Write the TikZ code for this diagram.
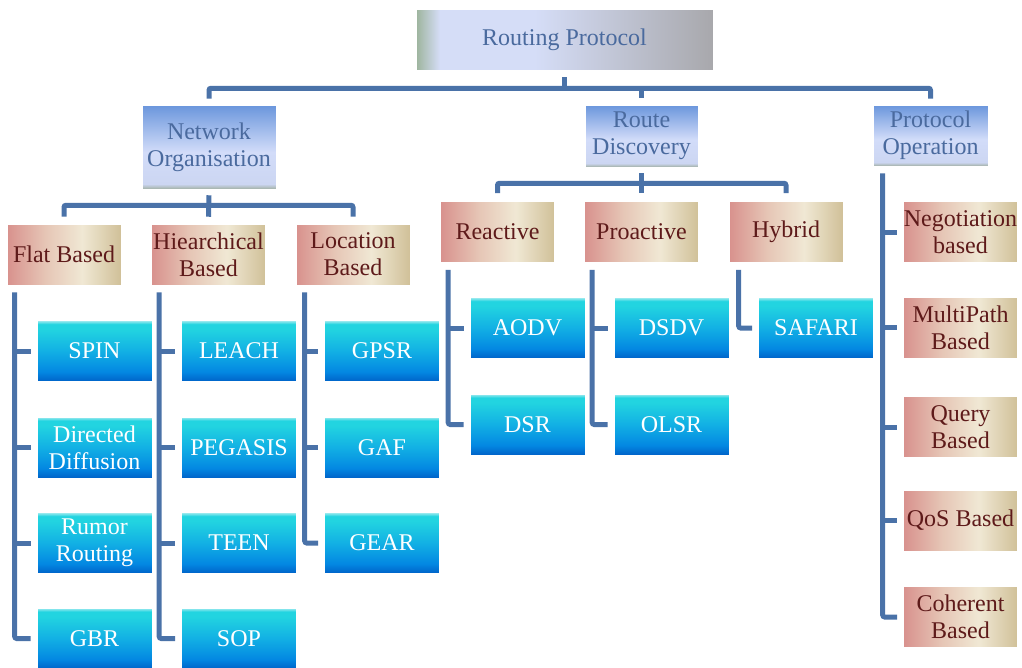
\documentclass[tikz,border=0pt]{standalone}
\usepackage{fontspec}
\setmainfont{Liberation Serif}
\usetikzlibrary{calc}
\definecolor{connc}{HTML}{4A72A8}
\definecolor{titletext}{HTML}{4A6A9E}
\definecolor{tantext}{HTML}{5E1A1A}
% blue boxes
\definecolor{bA}{HTML}{0062C8}
\definecolor{bB}{HTML}{0388E2}
\definecolor{bC}{HTML}{12B0E4}
\definecolor{bD}{HTML}{22D4E0}
\definecolor{bE}{HTML}{A8ECF0}
\pgfdeclareverticalshading{blueshade}{100bp}{color(0bp)=(bA); color(25bp)=(bA); color(33bp)=(bB); color(50bp)=(bC); color(68bp)=(bD); color(72bp)=(bD); color(75bp)=(bE); color(100bp)=(bE)}
% title boxes
\definecolor{tA}{HTML}{A2B0A4}
\definecolor{tB}{HTML}{CCD6F2}
\definecolor{tC}{HTML}{D2DCF9}
\definecolor{tE}{HTML}{6A96DC}
\pgfdeclareverticalshading{titleshade}{100bp}{color(0bp)=(tA); color(25bp)=(tA); color(28bp)=(tB); color(47bp)=(tC); color(75bp)=(tE); color(100bp)=(tE)}
% tan boxes
\definecolor{nA}{HTML}{D8918D}
\definecolor{nB}{HTML}{E6C6B6}
\definecolor{nC}{HTML}{F0E8D4}
\definecolor{nD}{HTML}{D0C098}
\pgfdeclarehorizontalshading{tanshade}{100bp}{color(0bp)=(nA); color(25bp)=(nA); color(42bp)=(nB); color(58bp)=(nC); color(75bp)=(nD); color(100bp)=(nD)}
% root box
\definecolor{rA}{HTML}{9DB49C}
\definecolor{rB}{HTML}{D5DDF7}
\definecolor{rD}{HTML}{A8A8AC}
\pgfdeclarehorizontalshading{rootshade}{100bp}{color(0bp)=(rA); color(25bp)=(rA); color(29bp)=(rB); color(45bp)=(rB); color(75bp)=(rD); color(100bp)=(rD)}
\tikzset{
  conn/.style={draw=connc, line width=3.75pt, rounded corners=1.5pt},
  boxbase/.style={rectangle, inner sep=0pt, align=center, font=\fontsize{18}{20.5}\selectfont, draw=white, line width=0.4pt},
  bluebox/.style={boxbase, shading=blueshade, text=white, minimum width=86.25pt, minimum height=45.75pt},
  tanbox/.style={boxbase, shading=tanshade, text=tantext, minimum width=85.5pt, minimum height=45.75pt},
  titlebox/.style={boxbase, shading=titleshade, text=titletext},
  rootbox/.style={boxbase, shading=rootshade, text=titletext},
}
\begin{document}
\begin{tikzpicture}[x=0.75pt, y=-0.75pt]
\useasboundingbox (0,0) rectangle (1022,668);
\fill[white] (0,0) rectangle (1022,668);
% top levels
\node[rootbox, minimum width=222.75pt, minimum height=45.75pt] (root) at (564.5,39.5) {Routing Protocol};
\node[titlebox, minimum width=100.5pt, minimum height=63pt] (netorg) at (209,147) {Network\\Organisation};
\node[titlebox, minimum width=84.75pt, minimum height=46.5pt] (routedisc) at (641.5,136) {Route\\Discovery};
\node[titlebox, minimum width=86.25pt, minimum height=45.75pt] (protop) at (930.5,135.5) {Protocol\\Operation};
% tan boxes
\node[tanbox] (flat) at (64,254.5) {Flat Based};
\node[tanbox] (hier) at (208.5,254.5) {Hiearchical\\Based};
\node[tanbox] (loc) at (353,254.5) {Location\\Based};
\node[tanbox] (reactive) at (497.5,232) {Reactive};
\node[tanbox] (proactive) at (641.5,232) {Proactive};
\node[tanbox] (hybrid) at (786,232) {Hybrid};
\node[tanbox] (neg) at (960.5,232) {Negotiation\\based};
\node[tanbox] (multi) at (960.5,327.5) {MultiPath\\Based};
\node[tanbox] (query) at (960.5,427) {Query\\Based};
\node[tanbox] (qos) at (960.5,520.5) {QoS Based};
\node[tanbox] (coherent) at (960.5,617) {Coherent\\Based};
% blue boxes
\node[bluebox] (spin) at (94.5,351) {SPIN};
\node[bluebox] (dd) at (94.5,447.5) {Directed\\Diffusion};
\node[bluebox] (rumor) at (94.5,543) {Rumor\\Routing};
\node[bluebox] (gbr) at (94.5,638.5) {GBR};
\node[bluebox] (leach) at (239,351) {LEACH};
\node[bluebox] (pegasis) at (239,447.5) {PEGASIS};
\node[bluebox] (teen) at (239,543) {TEEN};
\node[bluebox] (sop) at (239,638.5) {SOP};
\node[bluebox] (gpsr) at (382,351) {GPSR};
\node[bluebox] (gaf) at (382,447.5) {GAF};
\node[bluebox] (gear) at (382,543) {GEAR};
\node[bluebox] (aodv) at (527.5,328) {AODV};
\node[bluebox] (dsr) at (527.5,424.5) {DSR};
\node[bluebox] (dsdv) at (671.5,328) {DSDV};
\node[bluebox] (olsr) at (671.5,424.5) {OLSR};
\node[bluebox] (safari) at (816,328) {SAFARI};
% root connectors
\coordinate (rbar) at ($(root.south)+(0,18)$);
\draw[conn] ($(root.south)+(0,7)$) -- (rbar);
\draw[conn] ($(netorg.north)+(0,-6)$) |- (rbar) -| ($(protop.north)+(0,-6)$);
\draw[conn] (routedisc.north |- rbar) -- ($(routedisc.north)+(0,-7)$);
% network organisation connectors
\coordinate (nbar) at ($(netorg.south)+(0,16)$);
\draw[conn] ($(netorg.south)+(0,6)$) -- ($(hier.north)+(0,-7)$);
\draw[conn] ($(flat.north)+(0,-7)$) |- (nbar) -| ($(loc.north)+(0,-7)$);
% route discovery connectors
\coordinate (dbar) at ($(routedisc.south)+(0,16)$);
\draw[conn] ($(routedisc.south)+(0,6)$) -- ($(proactive.north)+(0,-8)$);
\draw[conn] ($(reactive.north)+(0,-8)$) |- (dbar) -| ($(hybrid.north)+(0,-8)$);
% lists
\coordinate (flatL) at ($(flat.south west)+(8,7)$);
\draw[conn] (flatL) |- ($(gbr.west)+(-6,0)$);
\foreach \n in {spin,dd,rumor} \draw[conn] (flatL |- \n.west) -- ($(\n.west)+(-6,0)$);
\coordinate (hierL) at ($(hier.south west)+(8,7)$);
\draw[conn] (hierL) |- ($(sop.west)+(-6,0)$);
\foreach \n in {leach,pegasis,teen} \draw[conn] (hierL |- \n.west) -- ($(\n.west)+(-6,0)$);
\coordinate (locL) at ($(loc.south west)+(9,7)$);
\draw[conn] (locL) |- ($(gear.west)+(-6,0)$);
\foreach \n in {gpsr,gaf} \draw[conn] (locL |- \n.west) -- ($(\n.west)+(-6,0)$);
\coordinate (reacL) at ($(reactive.south west)+(8,7)$);
\draw[conn] (reacL) |- ($(dsr.west)+(-6,0)$);
\draw[conn] (reacL |- aodv.west) -- ($(aodv.west)+(-6,0)$);
\coordinate (proL) at ($(proactive.south west)+(8,7)$);
\draw[conn] (proL) |- ($(olsr.west)+(-6,0)$);
\draw[conn] (proL |- dsdv.west) -- ($(dsdv.west)+(-6,0)$);
\coordinate (hybL) at ($(hybrid.south west)+(10,7)$);
\draw[conn] (hybL) |- ($(safari.west)+(-6,0)$);
\coordinate (opL) at ($(protop.south west)+(10,7)$);
\draw[conn] (opL) |- ($(coherent.west)+(-6,0)$);
\foreach \n in {neg,multi,query,qos} \draw[conn] (opL |- \n.west) -- ($(\n.west)+(-6,0)$);
\end{tikzpicture}
\end{document}
